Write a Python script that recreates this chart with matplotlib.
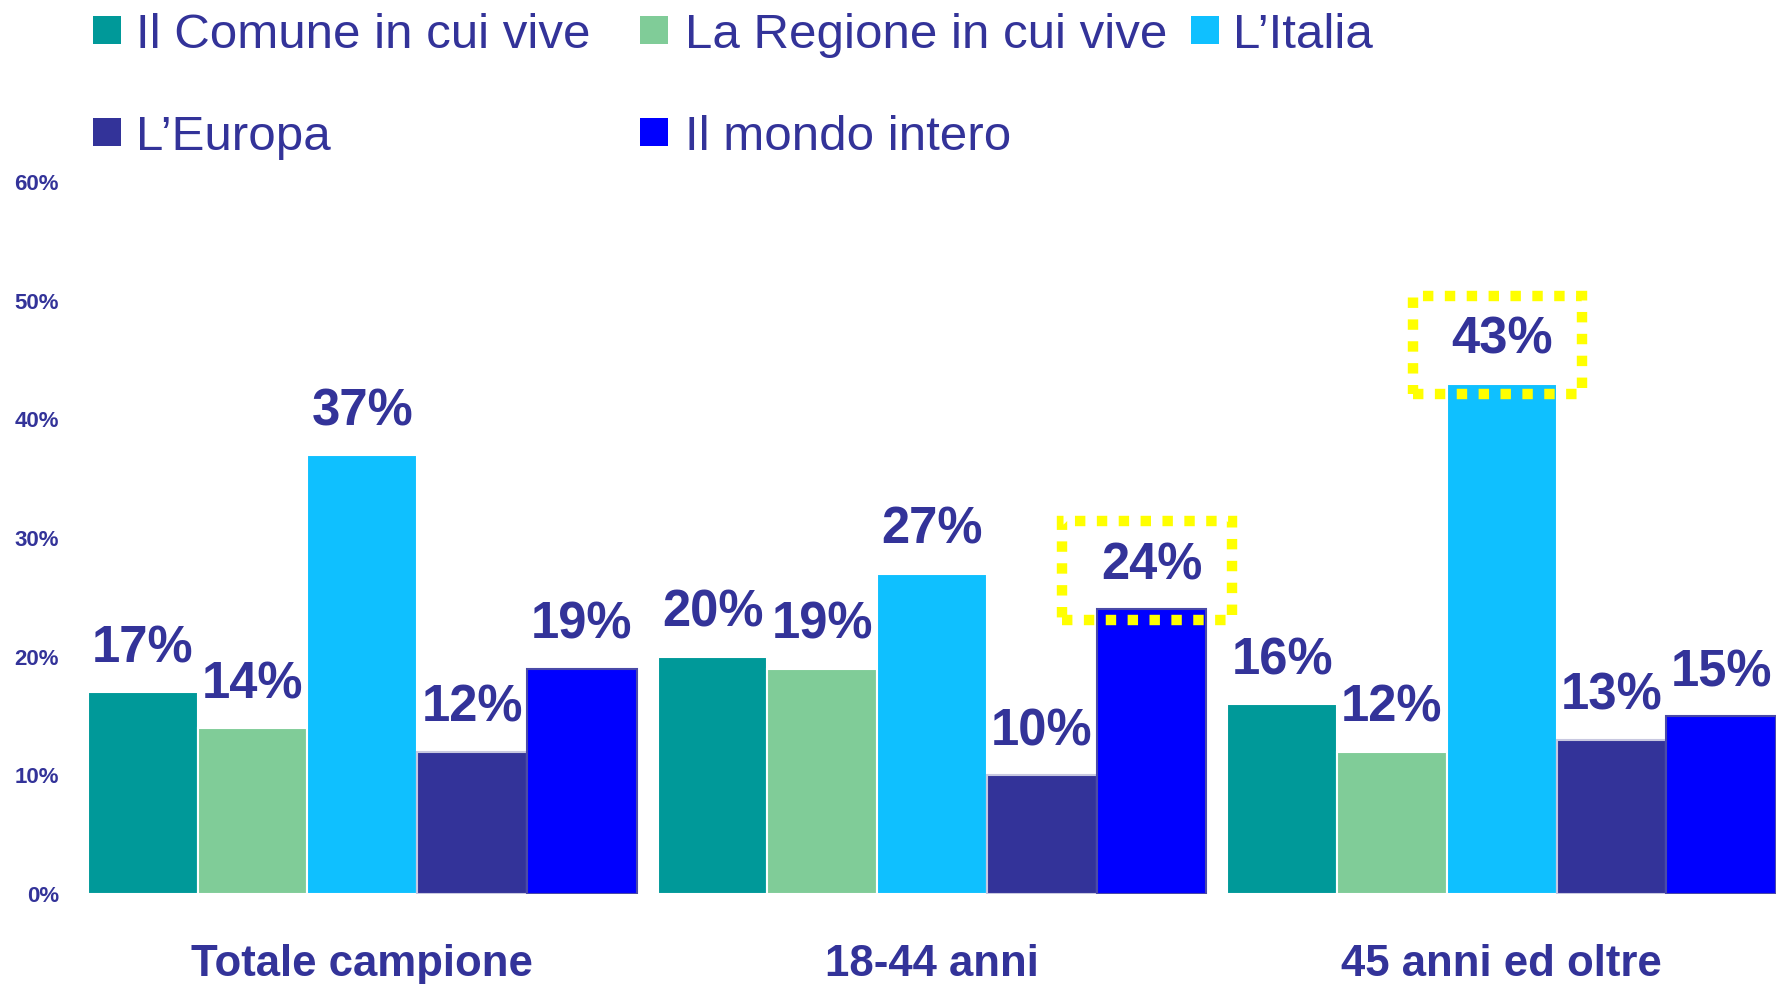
import matplotlib.pyplot as plt
import numpy as np
from matplotlib.patches import Rectangle

W, H = 1782, 984

groups = ["Totale campione", "18-44 anni", "45 anni ed oltre"]
series = ["Il Comune in cui vive", "La Regione in cui vive", "L\u2019Italia",
          "L\u2019Europa", "Il mondo intero"]
comune = [17, 20, 16]
regione = [14, 19, 12]
italia = [37, 27, 43]
europa = [12, 10, 13]
mondo = [19, 24, 15]
yticks = [0, 10, 20, 30, 40, 50, 60]
highlights = [(1, 4), (2, 2)]  # (group, series) boxed in yellow

COLORS = ["#009999", "#80CC98", "#0FC0FF", "#333399", "#0000FF"]
EDGES = ["white", "white", "white", "#c8c8e0", "#4a4aa8"]
TEXT = "#333399"
BAR_W = 0.1926

plt.rcParams["font.family"] = ["Liberation Sans", "DejaVu Sans"]

fig = plt.figure(figsize=(W / 100, H / 100), dpi=100)
fig.patch.set_facecolor("white")

# plot area in pixel terms: x 88..1776, y 182..894 (top-down)
ax = fig.add_axes([88 / W, (H - 894) / H, (1776 - 88) / W, (894 - 182) / H])

values = [comune, regione, italia, europa, mondo]
x = np.arange(len(groups))
for i, vals in enumerate(values):
    xs = x + (i - 2) * BAR_W
    ax.bar(xs, vals, width=BAR_W, color=COLORS[i], edgecolor=EDGES[i],
           linewidth=1.5, zorder=2)
    for xv, v in zip(xs, vals):
        ax.annotate(f"{v}%", xy=(xv, v), xytext=(0, 21.5),
                    textcoords="offset points", ha="center", va="baseline",
                    fontsize=36.5, fontweight="bold", color=TEXT, zorder=4)

# yellow dotted boxes around the highlighted values
for g, s in highlights:
    v = values[s][g]
    left = x[g] + (s - 2) * BAR_W - BAR_W / 2
    box = Rectangle((left - 0.06, v - 0.9), BAR_W + 0.105, 8.3, fill=False,
                    edgecolor="#FFFF00", linewidth=7.5,
                    linestyle=(0, (1, 1.1)), capstyle="butt", zorder=5)
    ax.add_patch(box)

ax.set_xlim(-2.5 * BAR_W, len(groups) - 1 + 2.5 * BAR_W)
ax.set_ylim(0, 60)
ax.set_yticks(yticks)
ax.set_yticklabels([f"{t}%" for t in yticks], fontsize=16,
                   fontweight="bold", color=TEXT)
ax.set_xticks(x)
ax.set_xticklabels(groups, fontsize=31.5, fontweight="bold", color=TEXT)
ax.tick_params(axis="y", length=0, pad=21)
ax.tick_params(axis="x", length=0, pad=36)
for sp in ax.spines.values():
    sp.set_visible(False)
ax.patch.set_alpha(0)

# ── legend, drawn by hand: 3 columns, 2 rows ──
col_sq = [93, 640, 1191]
col_txt = [136, 685, 1233]
row_mid = [30, 132]
row_base = [48, 150]
SQ = 28
for k, name in enumerate(series):
    r, c = divmod(k, 3)
    fig.add_artist(Rectangle((col_sq[c] / W, (H - row_mid[r] - SQ / 2) / H),
                             SQ / W, SQ / H, transform=fig.transFigure,
                             facecolor=COLORS[k], edgecolor="none"))
    fig.text(col_txt[c] / W, (H - row_base[r]) / H, name, ha="left",
             va="baseline", fontsize=35.5, color=TEXT)

fig.savefig("out.png", dpi=100)
